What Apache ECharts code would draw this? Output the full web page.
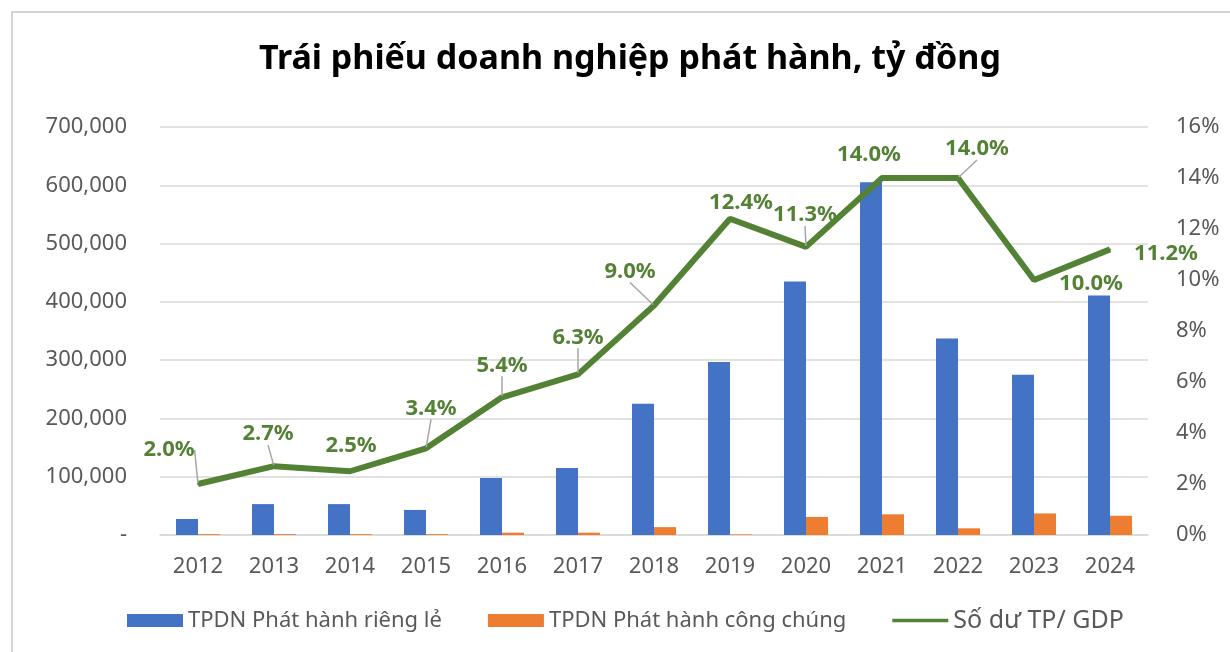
<!DOCTYPE html>
<html>
<head>
<meta charset="utf-8">
<script src="https://cdn.jsdelivr.net/npm/echarts@6/dist/echarts.min.js"></script>
<style>
  html, body { margin: 0; padding: 0; background: #fff; }
  #chart { width: 1230px; height: 652px; }
</style>
</head>
<body>
<div id="chart"></div>
<script>
var years = ['2012','2013','2014','2015','2016','2017','2018','2019','2020','2021','2022','2023','2024'];
var riengLe = [27500, 53000, 53000, 43000, 98000, 115000, 225000, 297000, 435000, 605000, 337000, 275000, 411000];
var congChung = [1500, 1500, 1500, 1500, 4000, 4000, 13500, 1000, 31000, 35500, 11500, 37000, 33000];
var duNoGdp = [2.0, 2.7, 2.5, 3.4, 5.4, 6.3, 9.0, 12.4, 11.3, 14.0, 14.0, 10.0, 11.2];

// label nudges (dx, dy) and whether a leader line is drawn
var labelShift = [[-29,-17],[-6,-15],[1,-9],[5,-23],[0,-15],[0,-20],[-24,-17],[11,1],[-1,-15],[-13,-6],[19,-12],[57,21],[56,21]];
var leader = [1,1,0,1,1,1,1,0,1,0,1,0,0];

var dom = document.getElementById('chart');
var myChart = echarts.init(dom);
var grey = '#595959';
var font = '"Noto Sans", "DejaVu Sans", sans-serif';

var lineData = duNoGdp.map(function (v, i) {
    return { value: v, labelLine: { show: !!leader[i] } };
});

var option = {
    backgroundColor: '#fff',
    animation: false,
    title: {
        text: 'Trái phiếu doanh nghiệp phát hành, tỷ đồng',
        left: 254,
        top: 37,
        textStyle: { fontFamily: font, fontSize: 34, fontWeight: 'bold', color: '#000' }
    },
    graphic: [{
        type: 'rect',
        shape: { x: 12, y: 12, width: 1240, height: 660 },
        style: { fill: 'none', stroke: '#d4d4d4', lineWidth: 2 },
        silent: true
    }],
    legend: {
        bottom: 14,
        left: 122,
        itemWidth: 56,
        itemHeight: 13,
        itemGap: 46,
        textStyle: { fontFamily: font, fontSize: 22, color: grey },
        data: [
            { name: 'TPDN Phát hành riêng lẻ', icon: 'rect' },
            { name: 'TPDN Phát hành công chúng', icon: 'rect' },
            { name: 'Số dư TP/ GDP', icon: 'path://M0,5 L60,5 L60,9 L0,9 Z', itemStyle: { color: '#548235' }, textStyle: { fontSize: 25 } }
        ]
    },
    grid: { left: 160, right: 82, top: 127, bottom: 117 },
    xAxis: {
        type: 'category',
        data: years,
        axisLine: { lineStyle: { color: '#d9d9d9', width: 1.5 } },
        axisTick: { show: false },
        axisLabel: { color: grey, fontFamily: font, fontSize: 22, margin: 21 }
    },
    yAxis: [{
        type: 'value',
        min: 0,
        max: 700000,
        interval: 100000,
        axisLine: { show: false },
        axisTick: { show: false },
        splitLine: { lineStyle: { color: '#d9d9d9', width: 1.5 } },
        axisLabel: {
            color: grey, fontFamily: font, fontSize: 22, margin: 33,
            formatter: function (v) {
                return v === 0 ? '-' : v.toLocaleString('en-US');
            }
        }
    }, {
        type: 'value',
        min: 0,
        max: 16,
        interval: 2,
        axisLine: { show: false },
        axisTick: { show: false },
        splitLine: { show: false },
        axisLabel: {
            color: grey, fontFamily: font, fontSize: 22, margin: 28,
            formatter: '{value}%'
        }
    }],
    series: [{
        name: 'TPDN Phát hành riêng lẻ',
        type: 'bar',
        data: riengLe,
        barWidth: 22,
        barGap: '0%',
        itemStyle: { color: '#4472C4' }
    }, {
        name: 'TPDN Phát hành công chúng',
        type: 'bar',
        data: congChung,
        barWidth: 22,
        barGap: '0%',
        itemStyle: { color: '#ED7D31' }
    }, {
        name: 'Số dư TP/ GDP',
        type: 'line',
        yAxisIndex: 1,
        data: lineData,
        symbol: 'circle',
        symbolSize: 2,
        lineStyle: { color: '#548235', width: 6 },
        itemStyle: { color: '#548235' },
        label: {
            show: true,
            position: 'top',
            color: '#548235',
            fontFamily: font,
            fontSize: 22,
            fontWeight: 'bold',
            formatter: function (p) { return p.value.toFixed(1) + '%'; }
        },
        labelLine: { show: true, lineStyle: { color: '#a6a6a6', width: 1.5 } },
        labelLayout: function (p) {
            var s = labelShift[p.dataIndex];
            return { dx: s[0], dy: s[1] };
        }
    }]
};

myChart.setOption(option);
</script>
</body>
</html>
